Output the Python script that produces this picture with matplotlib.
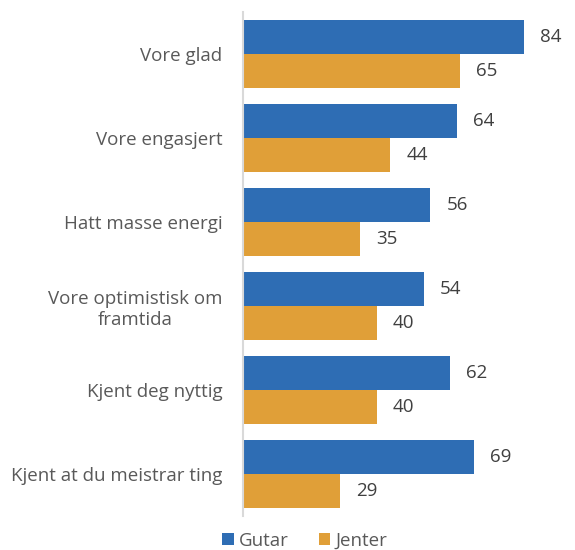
import matplotlib
matplotlib.use("Agg")
import matplotlib.pyplot as plt
import numpy as np

categories = ["Vore glad", "Vore engasjert", "Hatt masse energi",
              "Vore optimistisk om\nframtida", "Kjent deg nyttig",
              "Kjent at du meistrar ting"]
gutar = [84, 64, 56, 54, 62, 69]
jenter = [65, 44, 35, 40, 40, 29]
series_names = ["Gutar", "Jenter"]

plt.rcParams['font.family'] = ['Open Sans', 'DejaVu Sans']
blue = "#2E6DB4"
orange = "#E09F38"
val_col = "#404040"
lab_col = "#595959"
fs = 13.5

fig = plt.figure(figsize=(5.75, 5.5), dpi=100)
ax = fig.add_axes([243/575, 1-516/550, (570.8-243)/575, 504/550])

y = np.arange(len(categories))
h = 0.4
b1 = ax.barh(y - h/2, gutar, height=h, color=blue, label=series_names[0])
b2 = ax.barh(y + h/2, jenter, height=h, color=orange, label=series_names[1])
ax.set_xlim(0, 98)
ax.set_ylim(len(categories) - 0.5, -0.5)

for bars, vals in ((b1, gutar), (b2, jenter)):
    for bar, v in zip(bars, vals):
        ax.annotate(str(v), (bar.get_width(), bar.get_y() + bar.get_height()/2),
                    xytext=(11.5, 0), textcoords="offset points",
                    va="center", ha="left", fontsize=fs, color=val_col)

ax.set_yticks(y)
ax.set_yticklabels(categories, fontsize=fs, color=lab_col, multialignment="center")
ax.tick_params(axis="y", length=0, pad=15)
ax.set_xticks([])
for s in ["top", "right", "bottom"]:
    ax.spines[s].set_visible(False)
ax.spines["left"].set_color("#D9D9D9")
ax.spines["left"].set_linewidth(1.5)

fig.legend(handles=[b1, b2], labels=series_names, loc="center",
           bbox_to_anchor=(305/575, 1-541/550), ncol=2, frameon=False,
           fontsize=fs, handlelength=0.6, handleheight=0.6, handletextpad=0.3,
           columnspacing=1.6, labelcolor=lab_col)

fig.savefig("out.png", dpi=100)
